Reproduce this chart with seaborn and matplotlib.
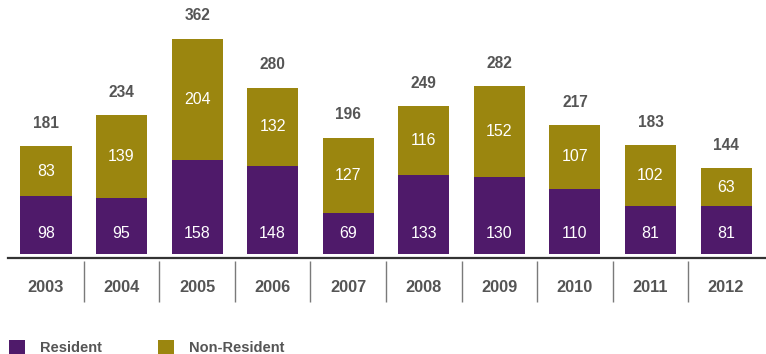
import matplotlib
matplotlib.use("Agg")
import matplotlib.pyplot as plt
import matplotlib.transforms as mtransforms
from matplotlib.patches import Patch
import numpy as np
import pandas as pd
import seaborn as sns

# Admissions by year, split into residents and non-residents
years = ["2003", "2004", "2005", "2006", "2007", "2008", "2009", "2010", "2011", "2012"]
resident = [98, 95, 158, 148, 69, 133, 130, 110, 81, 81]
non_resident = [83, 139, 204, 132, 127, 116, 152, 107, 102, 63]
series_names = ["Resident", "Non-Resident"]

PURPLE = "#4F1A6A"
OLIVE = "#9B860F"
GREY = "#555555"

totals = [r + n for r, n in zip(resident, non_resident)]
df = pd.DataFrame({"year": years, "resident": resident,
                   "non_resident": non_resident, "total": totals})

sns.set_theme(style="white")
plt.rcParams["font.family"] = ["Liberation Sans", "DejaVu Sans"]

fig = plt.figure(figsize=(7.66, 3.54), dpi=100)
W, H = 766, 354
# axes spans from the baseline rule up to the top edge
ax = fig.add_axes([8 / W, (H - 258) / H, 758 / W, 258 / H])

bar_w = 0.675
# full stack height in olive, resident part drawn over it in purple
sns.barplot(data=df, x="year", y="total", color=OLIVE, saturation=1,
            width=bar_w, ax=ax, linewidth=0)
sns.barplot(data=df, x="year", y="resident", color=PURPLE, saturation=1,
            width=bar_w, ax=ax, linewidth=0)

px_per_unit = 0.594
ymin = -4 / px_per_unit
ax.set_ylim(ymin, ymin + 258 / px_per_unit)
step = 75.56
ax.set_xlim(-38 / step, (758 - 38) / step)

# value labels
for i, (r, n, t) in enumerate(zip(resident, non_resident, totals)):
    ax.text(i, 20 / px_per_unit, str(r), ha="center", va="center",
            color="white", fontsize=11.5)
    ax.text(i, r + n / 2, str(n), ha="center", va="center",
            color="white", fontsize=11.5)
    ax.text(i, t + 23 / px_per_unit, str(t), ha="center", va="center",
            color=GREY, fontsize=11.2, fontweight="bold")

# axis styling
for side in ["top", "left", "right"]:
    ax.spines[side].set_visible(False)
ax.spines["bottom"].set_color("#333333")
ax.spines["bottom"].set_linewidth(1.6)
ax.set_yticks([])
ax.set_xlabel("")
ax.set_ylabel("")
ax.tick_params(axis="x", length=0, pad=16, labelsize=11.8, labelcolor=GREY)
for lab in ax.get_xticklabels():
    lab.set_fontweight("bold")

# thin separators between year labels
trans = mtransforms.blended_transform_factory(ax.transData, ax.transAxes)
ax.vlines([i + 0.5 for i in range(len(years) - 1)], -3 / 258, -44 / 258,
          transform=trans, color="#7a7a7a", linewidth=1.0, clip_on=False)

handles = [Patch(facecolor=PURPLE, edgecolor="none"),
           Patch(facecolor=OLIVE, edgecolor="none")]
leg = fig.legend(handles, series_names, loc="lower left",
                 bbox_to_anchor=(9 / W, -0.003), ncol=2, frameon=False,
                 borderpad=0, borderaxespad=0, handlelength=1.1,
                 handleheight=1.1, handletextpad=1.0, columnspacing=3.9,
                 fontsize=10.5)
for t in leg.get_texts():
    t.set_color(GREY)
    t.set_fontweight("bold")

fig.savefig("out.png", dpi=100)
